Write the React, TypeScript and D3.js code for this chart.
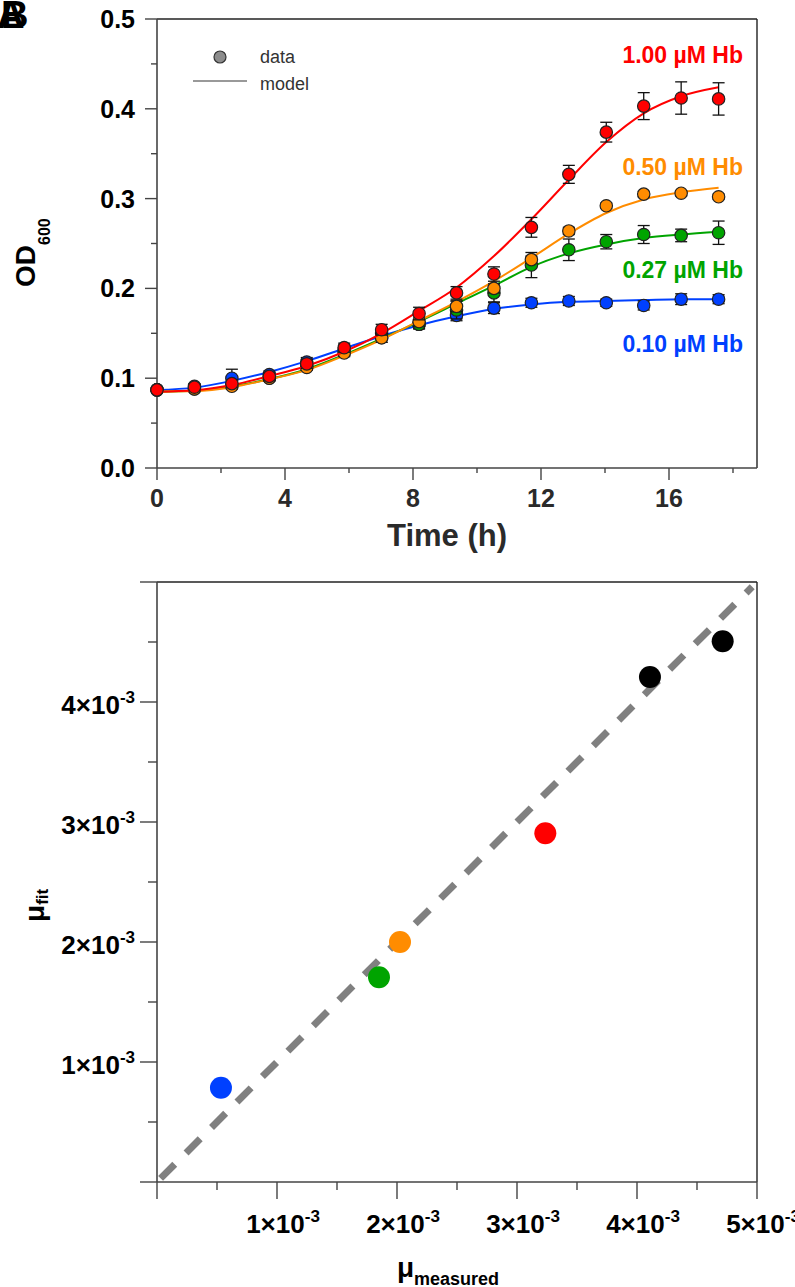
import React from 'react'
import * as d3 from 'd3'

// growth curves, OD600 vs time (h)
const times = [0, 1.17, 2.34, 3.51, 4.68, 5.85, 7.02, 8.19, 9.36, 10.53, 11.7, 12.87, 14.04, 15.21, 16.38, 17.55]

const series = ['0.10 µM Hb', '0.27 µM Hb', '0.50 µM Hb', '1.00 µM Hb']
const seriesColors = ['#0040ff', '#00a400', '#ff8c00', '#ff0000']

const odBlue = [0.087, 0.091, 0.1, 0.104, 0.118, 0.132, 0.15, 0.16, 0.17, 0.178, 0.184, 0.186, 0.184, 0.181, 0.188, 0.188]
const odGreen = [0.087, 0.088, 0.092, 0.1, 0.113, 0.129, 0.145, 0.16, 0.176, 0.195, 0.226, 0.243, 0.252, 0.26, 0.259, 0.262]
const odOrange = [0.087, 0.088, 0.091, 0.1, 0.112, 0.128, 0.145, 0.163, 0.18, 0.2, 0.232, 0.264, 0.292, 0.305, 0.306, 0.302]
const odRed = [0.087, 0.09, 0.094, 0.102, 0.116, 0.134, 0.154, 0.172, 0.195, 0.216, 0.268, 0.327, 0.374, 0.403, 0.412, 0.411]

const errBlue = [0.002, 0.003, 0.01, 0.004, 0.005, 0.005, 0.005, 0.005, 0.006, 0.006, 0.005, 0.005, 0.004, 0.005, 0.006, 0.005]
const errGreen = [0.002, 0.002, 0.003, 0.003, 0.004, 0.004, 0.005, 0.005, 0.01, 0.01, 0.014, 0.012, 0.008, 0.01, 0.007, 0.013]
const errOrange = [0.002, 0.002, 0.003, 0.003, 0.003, 0.004, 0.005, 0.005, 0.006, 0.005, 0.004, 0.004, 0.003, 0.003, 0.003, 0.003]
const errRed = [0.003, 0.003, 0.004, 0.004, 0.005, 0.005, 0.006, 0.007, 0.007, 0.008, 0.011, 0.01, 0.011, 0.015, 0.018, 0.018]

const modelBlue = [0.0868, 0.0895, 0.097, 0.107, 0.119, 0.133, 0.147, 0.159, 0.169, 0.177, 0.182, 0.185, 0.186, 0.187, 0.188, 0.188]
const modelGreen = [0.085, 0.086, 0.091, 0.099, 0.11, 0.126, 0.144, 0.163, 0.183, 0.203, 0.224, 0.239, 0.249, 0.256, 0.26, 0.263]
const modelOrange = [0.085, 0.0857, 0.09, 0.0988, 0.109, 0.125, 0.143, 0.164, 0.185, 0.208, 0.234, 0.261, 0.284, 0.299, 0.307, 0.312]
const modelRed = [0.085, 0.0866, 0.0924, 0.1024, 0.1136, 0.1295, 0.15, 0.175, 0.201, 0.236, 0.277, 0.321, 0.363, 0.395, 0.414, 0.424]

const odData = [odBlue, odGreen, odOrange, odRed]
const odErr = [errBlue, errGreen, errOrange, errRed]
const odModel = [modelBlue, modelGreen, modelOrange, modelRed]

const odTicks = [0, 0.1, 0.2, 0.3, 0.4, 0.5]
const odMinor = [0.05, 0.15, 0.25, 0.35, 0.45]
const timeTicks = [0, 4, 8, 12, 16]
const timeMinor = [2, 6, 10, 14, 18]

// growth rates, fit vs measured
const muMeasured = [0.000533, 0.00185, 0.002025, 0.003236, 0.004108, 0.004714]
const muFit = [0.000786, 0.001706, 0.002, 0.002906, 0.004208, 0.004506]
const muColors = ['#0040ff', '#00a400', '#ff8c00', '#ff0000', '#000000', '#000000']
const identity = [0.00003, 0.00496]

const muTicks = [0, 0.001, 0.002, 0.003, 0.004, 0.005]
const muMinor = [0.0005, 0.0015, 0.0025, 0.0035, 0.0045]
const muYLabels = [1, 2, 3, 4]
const muXLabels = [1, 2, 3, 4, 5]

const FONT = '"Liberation Sans", Arial, Helvetica, sans-serif'
const AXIS = '#444'
const FRAME = '#222'

const App = () => {
  const x = d3.scaleLinear().domain([0, 18.75]).range([157, 757])
  const y = d3.scaleLinear().domain([0, 0.5]).range([468, 19])

  const bx = d3.scaleLinear().domain([0, 0.005]).range([157, 757])
  const by = d3.scaleLinear().domain([0, 0.005]).range([1182, 582])

  const line = d3
    .line<number>()
    .x((d, i) => x(times[i]))
    .y((d) => y(d))
    .curve(d3.curveMonotoneX)

  // label layout for the concentration tags (right aligned)
  const tagY = [352, 278, 175, 63]

  return (
    <svg
      width={795}
      height={1287}
      style={{ position: 'absolute', left: 0, top: 0, background: '#fff' }}
      fontFamily={FONT}
    >
      {/* panel letters, overlapping as in the source figure */}
      <text x={-3} y={28} fontSize={38} fontWeight="bold" fill="#000">A</text>
      <text x={1} y={28} fontSize={38} fontWeight="bold" fill="#000">B</text>

      {/* ===== top panel ===== */}
      <g>
        <line x1={157} x2={757} y1={y(0.5)} y2={y(0.5)} stroke={FRAME} strokeWidth={1.4} />
        <line x1={757} x2={757} y1={y(0.5)} y2={y(0)} stroke={FRAME} strokeWidth={1.4} />
        <line x1={157} x2={757} y1={y(0)} y2={y(0)} stroke={AXIS} strokeWidth={1.6} />
        <line x1={157} x2={157} y1={y(0.5)} y2={y(0)} stroke={AXIS} strokeWidth={1.6} />
        {odTicks.map((t) => (
          <g key={'yt' + t}>
            <line x1={145} x2={157} y1={y(t)} y2={y(t)} stroke={AXIS} strokeWidth={1.4} />
            <text x={135} y={y(t) + 9} textAnchor="end" fontSize={25} fontWeight="bold" fill="#000">
              {t.toFixed(1)}
            </text>
          </g>
        ))}
        {odMinor.map((t) => (
          <line key={'ym' + t} x1={151} x2={157} y1={y(t)} y2={y(t)} stroke={AXIS} strokeWidth={1.4} />
        ))}
        {timeTicks.map((t) => (
          <g key={'xt' + t}>
            <line x1={x(t)} x2={x(t)} y1={y(0)} y2={y(0) + 12} stroke={AXIS} strokeWidth={1.4} />
            <text x={x(t)} y={507} textAnchor="middle" fontSize={25} fontWeight="bold" fill="#2a2a2a">
              {t}
            </text>
          </g>
        ))}
        {timeMinor.map((t) => (
          <line key={'xm' + t} x1={x(t)} x2={x(t)} y1={y(0)} y2={y(0) + 5} stroke={AXIS} strokeWidth={1.4} />
        ))}
        <text x={447} y={546} textAnchor="middle" fontSize={31} fontWeight="bold" fill="#2a2a2a">
          Time (h)
        </text>
        <text transform="translate(35,287) rotate(-90)" fontSize={28} fontWeight="bold" fill="#000">
          OD<tspan fontSize={16} dy={15}>600</tspan>
        </text>

        {/* legend */}
        <circle cx={220} cy={57} r={6} fill="#8c8c8c" stroke="#333" strokeWidth={1.2} />
        <text x={260} y={63} fontSize={18} fill="#333">data</text>
        <line x1={193} x2={247} y1={81} y2={81} stroke="#999" strokeWidth={2} />
        <text x={260} y={90} fontSize={18} fill="#333">model</text>

        {series.map((s, k) => (
          <g key={s}>
            <path d={line(odModel[k]) || ''} fill="none" stroke={seriesColors[k]} strokeWidth={2} />
            {odData[k].map((v, i) => (
              <g key={i}>
                <line
                  x1={x(times[i])}
                  x2={x(times[i])}
                  y1={y(v - odErr[k][i])}
                  y2={y(v + odErr[k][i])}
                  stroke="#111"
                  strokeWidth={1.3}
                />
                <line x1={x(times[i]) - 6} x2={x(times[i]) + 6} y1={y(v - odErr[k][i])} y2={y(v - odErr[k][i])} stroke="#111" strokeWidth={1.3} />
                <line x1={x(times[i]) - 6} x2={x(times[i]) + 6} y1={y(v + odErr[k][i])} y2={y(v + odErr[k][i])} stroke="#111" strokeWidth={1.3} />
              </g>
            ))}
            {odData[k].map((v, i) => (
              <circle key={'c' + i} cx={x(times[i])} cy={y(v)} r={6.2} fill={seriesColors[k]} stroke="#222" strokeWidth={1.2} />
            ))}
            <text x={743} y={tagY[k]} textAnchor="end" fontSize={23} fontWeight="bold" fill={seriesColors[k]}>
              {s}
            </text>
          </g>
        ))}
      </g>

      {/* ===== bottom panel ===== */}
      <g>
        <line x1={157} x2={757} y1={by(0.005)} y2={by(0.005)} stroke={FRAME} strokeWidth={1.4} />
        <line x1={757} x2={757} y1={by(0.005)} y2={by(0)} stroke={FRAME} strokeWidth={1.4} />
        <line x1={157} x2={757} y1={by(0)} y2={by(0)} stroke={AXIS} strokeWidth={1.6} />
        <line x1={157} x2={157} y1={by(0.005)} y2={by(0)} stroke={AXIS} strokeWidth={1.6} />
        {muTicks.map((t) => (
          <g key={'bt' + t}>
            <line x1={140} x2={157} y1={by(t)} y2={by(t)} stroke={AXIS} strokeWidth={1.4} />
            <line x1={bx(t)} x2={bx(t)} y1={by(0)} y2={by(0) + 17} stroke={AXIS} strokeWidth={1.4} />
          </g>
        ))}
        {muMinor.map((t) => (
          <g key={'bm' + t}>
            <line x1={148} x2={157} y1={by(t)} y2={by(t)} stroke={AXIS} strokeWidth={1.4} />
            <line x1={bx(t)} x2={bx(t)} y1={by(0)} y2={by(0) + 8} stroke={AXIS} strokeWidth={1.4} />
          </g>
        ))}
        {muYLabels.map((n) => (
          <text key={'yl' + n} x={135} y={by(n * 0.001) + 12} textAnchor="end" fontSize={26} fontWeight="bold" fill="#000">
            {n}×10<tspan fontSize={17} dy={-11}>-3</tspan>
          </text>
        ))}
        {muXLabels.map((n) => (
          <text key={'xl' + n} x={bx(n * 0.001) + 6} y={1233} textAnchor="middle" fontSize={26} fontWeight="bold" fill="#000">
            {n}×10<tspan fontSize={17} dy={-11}>-3</tspan>
          </text>
        ))}
        <text x={448} y={1277} textAnchor="middle" fontSize={28} fontWeight="bold" fill="#000">
          μ<tspan fontSize={18} dy={8}>measured</tspan>
        </text>
        <text transform="translate(44,922) rotate(-90)" fontSize={28} fontWeight="bold" fill="#000">
          μ<tspan fontSize={17} dy={4}>fit</tspan>
        </text>

        <line
          x1={bx(identity[0])}
          y1={by(identity[0])}
          x2={bx(identity[1])}
          y2={by(identity[1])}
          stroke="#808080"
          strokeWidth={7}
          strokeDasharray="20 16"
        />
        {muMeasured.map((m, i) => (
          <circle key={'mu' + i} cx={bx(m)} cy={by(muFit[i])} r={11} fill={muColors[i]} />
        ))}
      </g>
    </svg>
  )
}

export default App
